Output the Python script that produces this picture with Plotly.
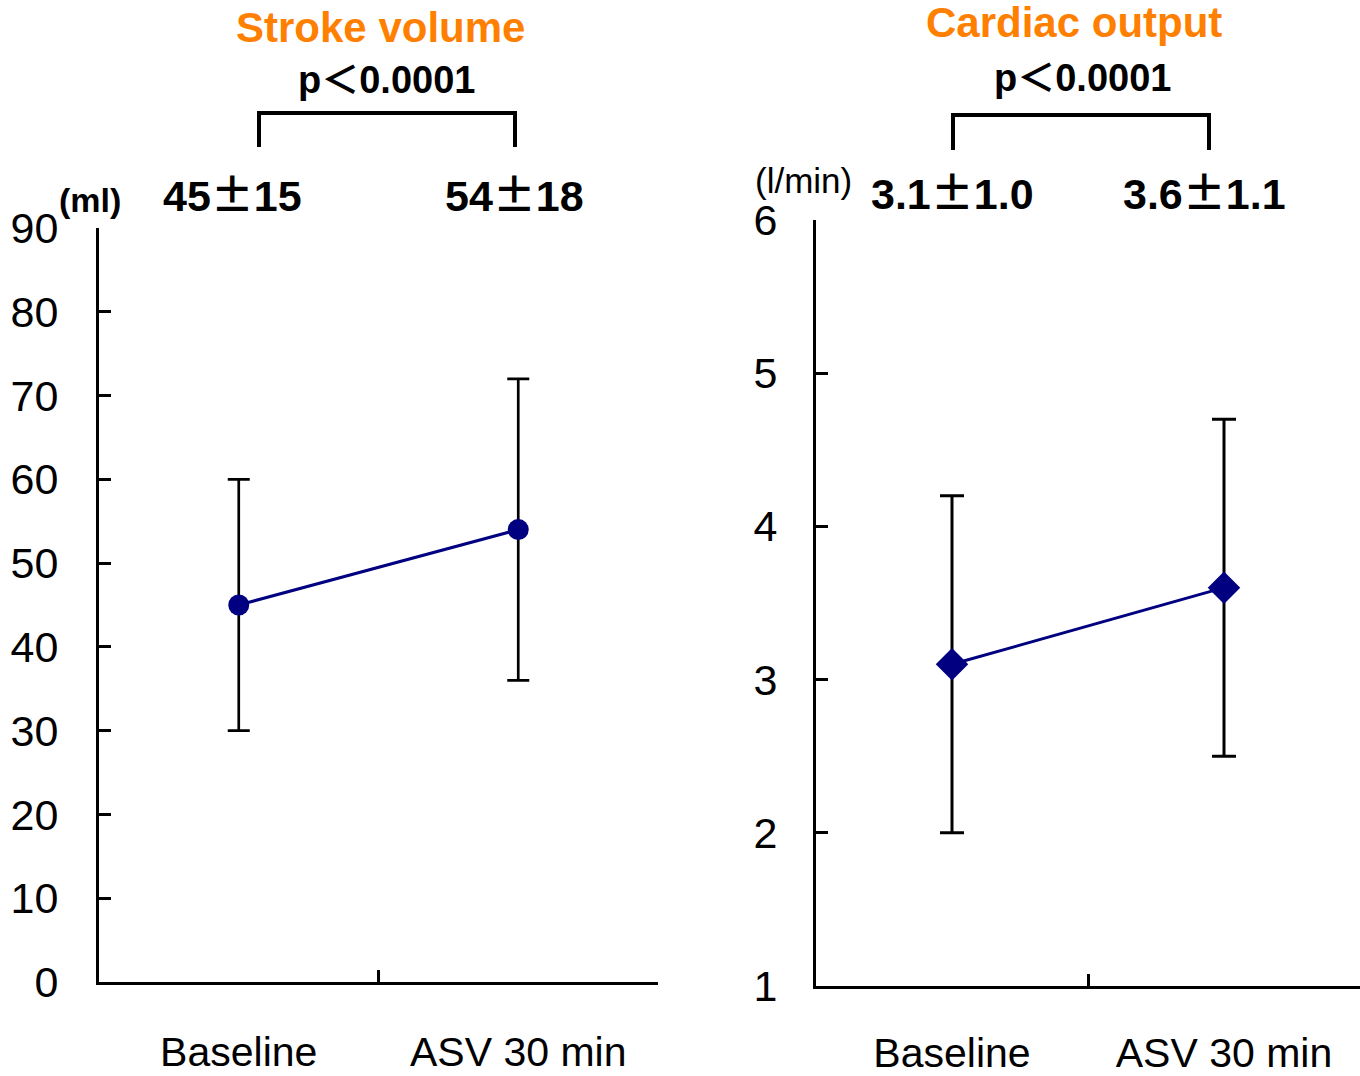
import plotly.graph_objects as go

categories = ["Baseline", "ASV 30 min"]

sv_mean = [45, 54]
sv_sd = [15, 18]
sv_labels = ["45±15", "54±18"]
sv_ticks = [0, 10, 20, 30, 40, 50, 60, 70, 80, 90]

co_mean = [3.1, 3.6]
co_sd = [1.1, 1.1]
co_labels = ["3.1±1.0", "3.6±1.1"]
co_ticks = [1, 2, 3, 4, 5, 6]

p_text = "p＜0.0001"
titles = ["Stroke volume", "Cardiac output"]
units = ["(ml)", "(l/min)"]

FONT = "Liberation Sans, Arial, Noto Sans CJK JP, sans-serif"
CJK = "Noto Sans CJK JP"
NAVY = "#000080"
ORANGE = "#FF8000"

fig = go.Figure()

fig.add_trace(go.Scatter(
    x=categories, y=sv_mean, xaxis="x", yaxis="y",
    mode="lines+markers",
    line=dict(color=NAVY, width=3),
    marker=dict(symbol="circle", size=21, color=NAVY),
    error_y=dict(type="data", array=sv_sd, visible=True, color="black", thickness=2.7, width=11),
    showlegend=False,
))
fig.add_trace(go.Scatter(
    x=categories, y=co_mean, xaxis="x2", yaxis="y2",
    mode="lines+markers",
    line=dict(color=NAVY, width=3),
    marker=dict(symbol="diamond", size=25, color=NAVY),
    error_y=dict(type="data", array=co_sd, visible=True, color="black", thickness=3, width=12),
    showlegend=False,
))

W, H = 1360, 1076
def px(x):
    return x / W
def py(y):
    return 1 - y / H

axis_common = dict(
    showline=True, linecolor="black", linewidth=3,
    ticks="inside", ticklen=12, tickwidth=3, tickcolor="black",
    showgrid=False, zeroline=False, automargin=False,
)

fig.update_layout(
    template="none",
    width=W, height=H,
    margin=dict(l=0, r=0, t=0, b=0, autoexpand=False),
    paper_bgcolor="white", plot_bgcolor="white",
    xaxis=dict(domain=[px(99), px(658)], anchor="y", type="category",
               range=[-0.5, 1.5], tickson="boundaries", ticklabelstandoff=32,
               tickfont=dict(family=FONT, size=41, color="black"), **axis_common),
    yaxis=dict(domain=[py(982), py(228)], anchor="x", range=[0, 90],
               tickvals=sv_ticks, ticklabelstandoff=29,
               tickfont=dict(family=FONT, size=43, color="black"), **axis_common),
    xaxis2=dict(domain=[px(816), 1.0], anchor="y2", type="category",
                range=[-0.5, 1.5], tickson="boundaries", ticklabelstandoff=29,
                tickfont=dict(family=FONT, size=41, color="black"), **axis_common),
    yaxis2=dict(domain=[py(986), py(220)], anchor="x2", range=[1, 6],
                tickvals=co_ticks, ticklabelstandoff=27,
                tickfont=dict(family=FONT, size=43, color="black"), **axis_common),
)

def pm(s):
    return s.replace("±", f"<span style='font-family:{CJK}'>±</span>")

base = dict(showarrow=False, xanchor="center", yanchor="middle")
ann = []
ann.append(dict(text=f"<b>{titles[0]}</b>", x=px(380), y=py(28), xref="paper", yref="paper",
                font=dict(family=FONT, size=42, color=ORANGE), **base))
ann.append(dict(text=f"<b>{titles[1]}</b>", x=px(1074), y=py(22), xref="paper", yref="paper",
                font=dict(family=FONT, size=42, color=ORANGE), **base))
ann.append(dict(text=f"<b>{p_text}</b>", x=px(386), y=py(80), xref="paper", yref="paper",
                font=dict(family=FONT, size=38, color="black"), **base))
ann.append(dict(text=f"<b>{p_text}</b>", x=px(1082), y=py(78), xref="paper", yref="paper",
                font=dict(family=FONT, size=38, color="black"), **base))
for i, lab in enumerate(sv_labels):
    ann.append(dict(text=f"<b>{pm(lab)}</b>", x=categories[i], y=py(192), xref="x", yref="paper",
                    xshift=[-6, -4][i], font=dict(family=FONT, size=43, color="black"), **base))
for i, lab in enumerate(co_labels):
    ann.append(dict(text=f"<b>{pm(lab)}</b>", x=categories[i], y=py(190), xref="x2", yref="paper",
                    xshift=[0, -20][i], font=dict(family=FONT, size=43, color="black"), **base))
ann.append(dict(text=f"<b>{units[0]}</b>", x=px(90), y=py(200), xref="paper", yref="paper",
                font=dict(family=FONT, size=34, color="black"), **base))
ann.append(dict(text=units[1], x=px(803), y=py(181), xref="paper", yref="paper",
                font=dict(family=FONT, size=35, color="black"), **base))
fig.update_layout(annotations=ann)

def bracket(x0, x1, ytop, ybot):
    return dict(type="path", xref="paper", yref="paper",
                path=f"M {px(x0)} {py(ybot)} L {px(x0)} {py(ytop)} L {px(x1)} {py(ytop)} L {px(x1)} {py(ybot)}",
                line=dict(color="black", width=4))
fig.update_layout(shapes=[bracket(259, 515, 113, 147), bracket(953, 1209, 115, 150)])

fig.write_html("out.html")
